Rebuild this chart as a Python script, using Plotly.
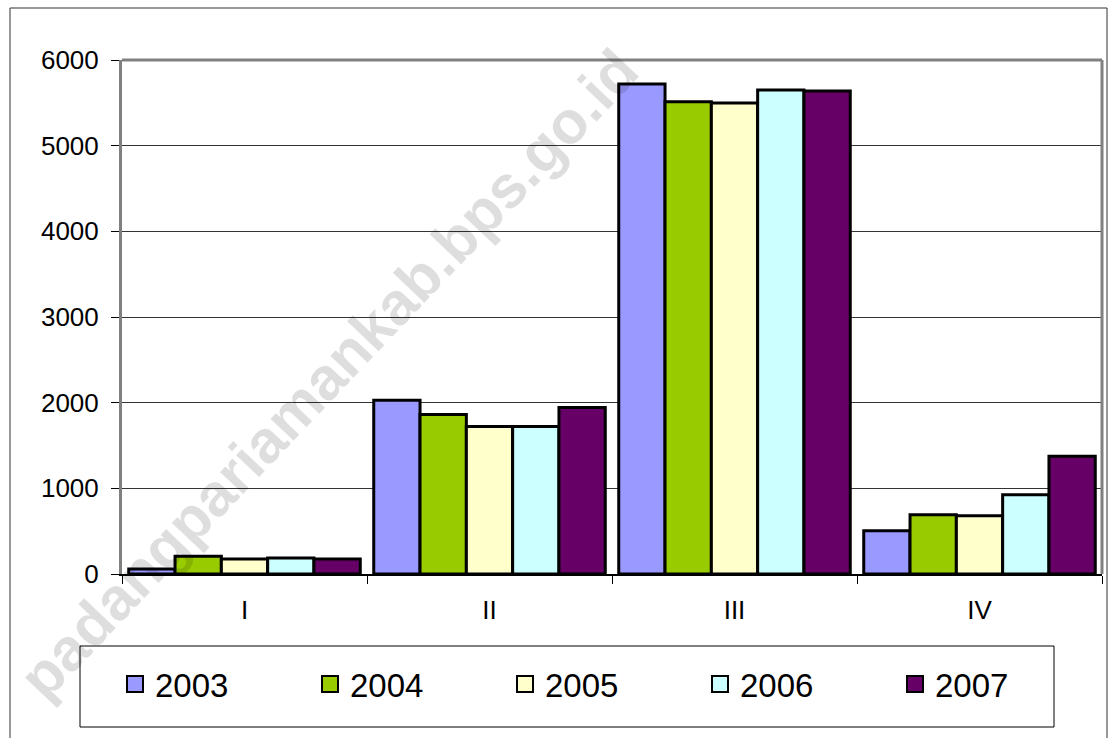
import plotly.graph_objects as go

categories = ["I", "II", "III", "IV"]
years = ["2003", "2004", "2005", "2006", "2007"]
values_2003 = [58, 2028, 5720, 506]
values_2004 = [206, 1861, 5514, 693]
values_2005 = [175, 1721, 5498, 681]
values_2006 = [187, 1721, 5650, 926]
values_2007 = [175, 1943, 5638, 1374]
series = [values_2003, values_2004, values_2005, values_2006, values_2007]
colors = ["#9999FF", "#99CC00", "#FFFFCC", "#CCFFFF", "#660066"]
y_ticks = [0, 1000, 2000, 3000, 4000, 5000, 6000]

W, H = 1110, 738
L, R, T, B = 122, 1102, 60, 574  # plot area in pixels
pw, ph = R - L, B - T

def px(x):
    return (x - L) / pw

def py(y):
    return (B - y) / ph

FONT = "Arial, Liberation Sans, sans-serif"

fig = go.Figure()
for name, vals, col in zip(years, series, colors):
    fig.add_trace(go.Bar(
        x=categories, y=vals, name=name, showlegend=False,
        marker=dict(color=col, line=dict(color="black", width=3)),
    ))
# legend keys (larger square swatches)
for name, col in zip(years, colors):
    fig.add_trace(go.Scatter(
        x=[None], y=[None], name=name, mode="markers",
        marker=dict(symbol="square", size=20, color=col,
                    line=dict(color="black", width=2)),
    ))

fig.update_layout(
    width=W, height=H,
    margin=dict(l=L, r=W - R, t=T, b=H - B),
    paper_bgcolor="white", plot_bgcolor="white",
    barmode="group", bargap=0.055, bargroupgap=0,
    font=dict(family=FONT, color="black"),
    showlegend=True,
    legend=dict(
        orientation="h", x=px(115), y=py(656), xanchor="left", yanchor="top",
        borderwidth=0, bgcolor="rgba(0,0,0,0)",
        font=dict(size=33, family=FONT),
        entrywidth=150, entrywidthmode="pixels", itemsizing="trace",
    ),
)
fig.update_xaxes(
    type="category", tickson="boundaries", ticks="outside", ticklen=8,
    tickcolor="black", tickwidth=1, showline=True, linecolor="black", linewidth=2,
    showgrid=False, tickfont=dict(size=26), ticklabelstandoff=12,
)
fig.update_yaxes(
    range=[0, 6000], tickvals=y_ticks, ticks="outside", ticklen=8,
    tickcolor="black", tickwidth=1, showline=True, linecolor="#808080", linewidth=3,
    showgrid=True, gridcolor="#333333", gridwidth=1, zeroline=False,
    tickfont=dict(size=26), ticklabelstandoff=7,
)

# plot-area border (top and right) in gray
fig.add_shape(type="line", xref="paper", yref="paper", x0=0, x1=1, y0=1, y1=1,
              line=dict(color="#808080", width=3), layer="above")
fig.add_shape(type="line", xref="paper", yref="paper", x0=1, x1=1, y0=0, y1=1,
              line=dict(color="#808080", width=3), layer="above")
# outer chart border
fig.add_shape(type="rect", xref="paper", yref="paper",
              x0=px(10), x1=px(1107), y0=py(760), y1=py(8),
              line=dict(color="#333333", width=1), layer="below")
# legend box
fig.add_shape(type="rect", xref="paper", yref="paper",
              x0=px(80), x1=px(1054), y0=py(727), y1=py(646),
              line=dict(color="black", width=1), fillcolor="white", layer="below")

# watermark
fig.add_annotation(
    text="padangpariamankab.bps.go.id", xref="paper", yref="paper",
    x=px(328), y=py(374), xanchor="center", yanchor="middle",
    textangle=-46.5, showarrow=False,
    font=dict(size=60, family=FONT, weight="bold", color="rgba(0,0,0,0.13)"),
)

fig.write_html("out.html", config={"displayModeBar": False},
               post_script="document.body.style.margin='0px';")
